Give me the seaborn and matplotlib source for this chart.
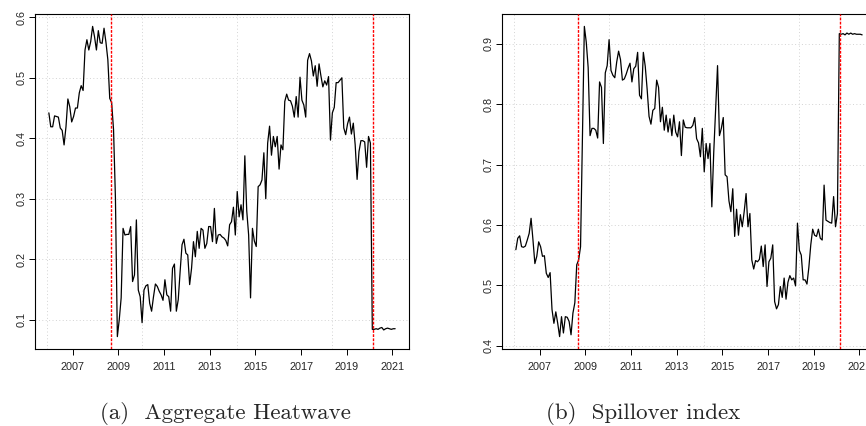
import numpy as np
import pandas as pd
import matplotlib
matplotlib.use('Agg')
import matplotlib.pyplot as plt
import seaborn as sns

# monthly series, index 1 = Jan 2006
heatwave = [
    0.442, 0.419, 0.419, 0.437, 0.436, 0.435, 0.417, 0.413, 0.389, 0.419,
    0.465, 0.452, 0.427, 0.436, 0.450, 0.450, 0.475, 0.487, 0.479, 0.546,
    0.563, 0.546, 0.560, 0.585, 0.568, 0.546, 0.578, 0.558, 0.557, 0.582,
    0.559, 0.530, 0.466, 0.459, 0.414, 0.300,
    0.072, 0.100, 0.136, 0.251, 0.240, 0.241, 0.241, 0.254, 0.163, 0.174,
    0.265, 0.149, 0.138, 0.095, 0.149, 0.156, 0.158, 0.127, 0.114, 0.138,
    0.159, 0.155, 0.147, 0.141, 0.132, 0.166, 0.141, 0.138, 0.114, 0.185,
    0.192, 0.114, 0.133, 0.180, 0.224, 0.233, 0.210, 0.207, 0.158, 0.185,
    0.229, 0.204, 0.246, 0.218, 0.251, 0.248, 0.218, 0.226, 0.254, 0.254,
    0.229, 0.284, 0.226, 0.240, 0.241,
    0.237, 0.235, 0.231, 0.222, 0.257, 0.262, 0.286, 0.240, 0.312, 0.270,
    0.290, 0.265, 0.371, 0.280, 0.240, 0.136, 0.251, 0.230, 0.221,
    0.320, 0.323, 0.331, 0.376, 0.300, 0.392, 0.420, 0.372, 0.403, 0.386,
    0.403, 0.349, 0.389, 0.381, 0.461, 0.473, 0.463, 0.462, 0.453, 0.435,
    0.469, 0.435, 0.501, 0.463, 0.455, 0.435, 0.529, 0.540, 0.528, 0.503,
    0.520, 0.486, 0.523, 0.503, 0.485, 0.495, 0.488, 0.502, 0.397, 0.442,
    0.451, 0.492, 0.492, 0.496, 0.500, 0.417, 0.406, 0.424, 0.435, 0.407,
    0.425, 0.389, 0.332, 0.378, 0.396, 0.396, 0.394, 0.352, 0.403, 0.392,
    0.084, 0.084, 0.085, 0.084, 0.086, 0.087, 0.083, 0.085, 0.086, 0.085,
    0.084, 0.085, 0.085,
]

spillover = [
    0.559, 0.578, 0.582, 0.564, 0.563, 0.565, 0.575, 0.586, 0.611, 0.575,
    0.536, 0.548, 0.572, 0.564, 0.548, 0.549, 0.520, 0.513, 0.521, 0.460,
    0.437, 0.456, 0.437, 0.415, 0.448, 0.421, 0.448, 0.447, 0.440, 0.418,
    0.454, 0.471, 0.534, 0.542, 0.564, 0.750,
    0.929, 0.903, 0.861, 0.748, 0.760, 0.760, 0.757, 0.744, 0.837, 0.828,
    0.735, 0.852, 0.864, 0.907, 0.856, 0.848, 0.844, 0.870, 0.888, 0.874,
    0.840, 0.842, 0.850, 0.860, 0.868, 0.837, 0.859, 0.863, 0.886, 0.815,
    0.809, 0.886, 0.863, 0.825, 0.780, 0.767, 0.790, 0.793, 0.840, 0.828,
    0.771,
    0.795, 0.757, 0.782, 0.754, 0.776, 0.748, 0.782, 0.754, 0.746, 0.771,
    0.715, 0.774, 0.762, 0.761, 0.761, 0.761, 0.765, 0.778, 0.743, 0.736,
    0.713, 0.760, 0.688, 0.735, 0.710, 0.735, 0.630,
    0.720, 0.790, 0.864, 0.748, 0.760, 0.778, 0.683, 0.680, 0.640, 0.622,
    0.660, 0.581, 0.626, 0.583, 0.617, 0.597, 0.622, 0.652, 0.597, 0.619,
    0.542, 0.527, 0.541, 0.539, 0.543, 0.565, 0.531, 0.567, 0.498, 0.539,
    0.545, 0.567, 0.473, 0.461, 0.468, 0.498, 0.480, 0.512, 0.477, 0.505,
    0.516, 0.509, 0.512, 0.499, 0.603, 0.558, 0.550, 0.509, 0.509, 0.502,
    0.530, 0.567, 0.593, 0.583, 0.581, 0.593, 0.578, 0.575, 0.666, 0.608,
    0.606, 0.604, 0.603, 0.647, 0.597, 0.619,
    0.917, 0.916, 0.917, 0.915, 0.918, 0.916, 0.918, 0.916, 0.917, 0.916,
    0.916, 0.916, 0.915,
]

year_labels = ['2007', '2009', '2011', '2013', '2015', '2017', '2019', '2021']
break_months = [33.9, 171.3]   # Sep 2008, Mar 2020
captions = ['(a)  Aggregate Heatwave', '(b)  Spillover index']

df = pd.DataFrame({'month': np.arange(1, len(heatwave) + 1),
                   'heatwave': heatwave, 'spillover': spillover})

sns.set_style('white')
plt.rcParams['font.family'] = ['Liberation Sans', 'DejaVu Sans']

fig = plt.figure(figsize=(8.66, 4.26), dpi=100)
W, H = 866, 426
boxes = [(35, 14, 374, 335), (502, 14, 374, 335)]
cap_x = [225, 643]

n = len(df)
span = n - 1
xlim = (1 - 0.04 * span, n + 0.04 * span)
tick_pos = [13.6 + 24 * k for k in range(len(year_labels))]

for i, col in enumerate(['heatwave', 'spillover']):
    l, t, w, h = boxes[i]
    ax = fig.add_axes([l / W, 1 - (t + h) / H, w / W, h / H])
    sns.lineplot(data=df, x='month', y=col, ax=ax, color='black', lw=0.9)

    lo, hi = df[col].min(), df[col].max()
    pad = 0.04 * (hi - lo)
    ax.set_xlim(*xlim)
    ax.set_ylim(lo - pad, hi + pad)

    # R-style grid() at pretty positions of the index
    for gx in [0, 50, 100, 150]:
        ax.axvline(gx, color='#d3d3d3', lw=0.7, ls=(0, (1, 2.5)), zorder=0)
    yt = np.round(np.arange(0.1, 1.0, 0.1), 1)
    yt = [v for v in yt if lo - pad <= v <= hi + pad]
    for gy in yt:
        ax.axhline(gy, color='#d3d3d3', lw=0.7, ls=(0, (1, 2.5)), zorder=0)

    for b in break_months:
        ax.axvline(b, color='red', lw=1.0, ls=(0, (2, 1)), zorder=3)

    ax.set_yticks(yt)
    ax.set_yticklabels([f'{v:.1f}' for v in yt], rotation=90, va='center')
    ax.set_xticks(tick_pos)
    ax.set_xticklabels(year_labels)
    ax.tick_params(axis='both', direction='out', length=4, width=0.7,
                   color='black', labelsize=7.8, bottom=True, left=True)
    ax.tick_params(axis='x', pad=5)
    ax.tick_params(axis='y', pad=2)
    ax.set_xlabel('')
    ax.set_ylabel('')
    for s in ax.spines.values():
        s.set_color('black')
        s.set_linewidth(0.8)

    fig.text(cap_x[i] / W, (H - 419) / H, captions[i], ha='center',
             va='baseline', fontsize=16.5, family='cmr10')

fig.savefig('out.png', dpi=100)
